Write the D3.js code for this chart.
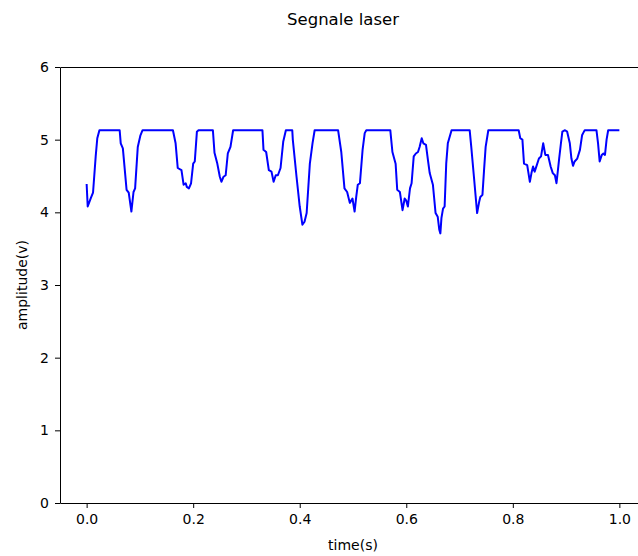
<!DOCTYPE html>
<html>
<head>
<meta charset="utf-8">
<script src="https://cdn.jsdelivr.net/npm/d3@7"></script>
<style>
  body { margin: 0; background: #fff; }
  svg { display: block; font-family: "DejaVu Sans", sans-serif; }
</style>
</head>
<body>
<svg id="chart" width="638" height="556"></svg>
<script>
// signal samples
const time = [
  0.000, 0.002, 0.008, 0.012, 0.017, 0.020, 0.024, 0.062, 0.064, 0.068,
  0.075, 0.079, 0.084, 0.088, 0.091, 0.096, 0.101, 0.105, 0.162, 0.167,
  0.171, 0.178, 0.182, 0.186, 0.188, 0.192, 0.196, 0.200, 0.203, 0.207,
  0.210, 0.237, 0.240, 0.245, 0.250, 0.253, 0.257, 0.261, 0.265, 0.270,
  0.275, 0.330, 0.332, 0.337, 0.342, 0.347, 0.351, 0.355, 0.359, 0.364,
  0.369, 0.374, 0.386, 0.387, 0.394, 0.400, 0.405, 0.409, 0.413, 0.419,
  0.424, 0.428, 0.472, 0.478, 0.484, 0.489, 0.494, 0.499, 0.503, 0.506,
  0.509, 0.513, 0.518, 0.522, 0.525, 0.570, 0.574, 0.580, 0.583, 0.588,
  0.593, 0.597, 0.600, 0.603, 0.607, 0.610, 0.614, 0.618, 0.622, 0.625,
  0.629, 0.632, 0.637, 0.641, 0.644, 0.650, 0.655, 0.659, 0.662, 0.664,
  0.666, 0.669, 0.672, 0.675, 0.678, 0.685, 0.719, 0.722, 0.727, 0.733,
  0.737, 0.739, 0.743, 0.746, 0.749, 0.754, 0.811, 0.814, 0.818, 0.821,
  0.827, 0.832, 0.835, 0.838, 0.841, 0.845, 0.849, 0.853, 0.857, 0.861,
  0.866, 0.871, 0.875, 0.879, 0.882, 0.887, 0.890, 0.893, 0.898, 0.902,
  0.907, 0.910, 0.913, 0.916, 0.921, 0.926, 0.930, 0.932, 0.935, 0.957,
  0.960, 0.963, 0.967, 0.970, 0.973, 0.976, 0.979, 1.000
];
const amplitude = [
  4.39, 4.08, 4.20, 4.27, 4.77, 5.02, 5.13, 5.13, 4.95, 4.88,
  4.31, 4.27, 4.01, 4.28, 4.33, 4.90, 5.06, 5.13, 5.13, 4.95,
  4.61, 4.58, 4.38, 4.40, 4.35, 4.33, 4.40, 4.67, 4.70, 5.11,
  5.13, 5.13, 4.82, 4.68, 4.49, 4.42, 4.49, 4.51, 4.81, 4.90,
  5.13, 5.13, 4.86, 4.83, 4.58, 4.56, 4.42, 4.51, 4.51, 4.61,
  4.97, 5.13, 5.13, 5.00, 4.49, 4.08, 3.83, 3.87, 3.99, 4.67,
  4.95, 5.13, 5.13, 4.83, 4.33, 4.28, 4.13, 4.19, 4.01, 4.21,
  4.38, 4.40, 4.86, 5.09, 5.13, 5.13, 4.83, 4.67, 4.31, 4.28,
  4.03, 4.19, 4.16, 4.08, 4.33, 4.40, 4.77, 4.81, 4.83, 4.90,
  5.02, 4.95, 4.93, 4.70, 4.54, 4.38, 3.99, 3.94, 3.76, 3.71,
  3.92, 4.05, 4.08, 4.67, 4.95, 5.13, 5.13, 4.90, 4.49, 3.99,
  4.15, 4.21, 4.24, 4.58, 4.90, 5.13, 5.13, 5.02, 5.00, 4.67,
  4.65, 4.42, 4.54, 4.63, 4.56, 4.65, 4.74, 4.77, 4.95, 4.79,
  4.79, 4.63, 4.54, 4.51, 4.40, 4.74, 4.93, 5.11, 5.13, 5.11,
  4.95, 4.74, 4.64, 4.70, 4.74, 4.86, 5.06, 5.09, 5.13, 5.13,
  4.95, 4.70, 4.79, 4.81, 4.79, 5.00, 5.13, 5.13
];
const xTicks = [0.0, 0.2, 0.4, 0.6, 0.8, 1.0];
const yTicks = [0, 1, 2, 3, 4, 5, 6];

const margin = {left: 60, top: 67};
const plotW = 586, plotH = 436;

const svg = d3.select("#chart");
const g = svg.append("g")
    .attr("transform", `translate(${margin.left},${margin.top})`);

const x = d3.scaleLinear().domain([-0.05, 1.05]).range([0, plotW]);
const y = d3.scaleLinear().domain([0, 6]).range([plotH, 0]);

const points = time.map((t, i) => [t, amplitude[i]]);

g.append("path")
    .datum(points)
    .attr("fill", "none")
    .attr("stroke", "#0000ff")
    .attr("stroke-width", 2)
    .attr("stroke-linejoin", "round")
    .attr("d", d3.line().x(d => x(d[0])).y(d => y(d[1])));

// axes
const xAxis = g.append("g")
    .attr("transform", `translate(0,${plotH})`)
    .call(d3.axisBottom(x).tickValues(xTicks).tickFormat(d3.format(".1f"))
        .tickSize(5).tickPadding(6).tickSizeOuter(0));
const yAxis = g.append("g")
    .call(d3.axisLeft(y).tickValues(yTicks).tickFormat(d3.format("d"))
        .tickSize(5).tickPadding(6).tickSizeOuter(0));

[xAxis, yAxis].forEach(a => {
    a.selectAll("text").attr("font-size", 14).attr("fill", "#000")
        .attr("font-family", "DejaVu Sans, sans-serif");
    a.selectAll("line").attr("stroke", "#000");
    a.select(".domain").attr("stroke", "#000").attr("stroke-width", 1);
});

// top and right spines (half-pixel offset keeps them crisp)
g.append("line")
    .attr("x1", 0.5).attr("x2", plotW + 0.5).attr("y1", 0.5).attr("y2", 0.5)
    .attr("stroke", "#000").attr("stroke-width", 1);
g.append("line")
    .attr("x1", plotW + 0.5).attr("x2", plotW + 0.5).attr("y1", 0.5).attr("y2", plotH + 0.5)
    .attr("stroke", "#000").attr("stroke-width", 1);

// title and labels
svg.append("text")
    .attr("x", 343).attr("y", 25)
    .attr("text-anchor", "middle")
    .attr("font-size", 16.5)
    .text("Segnale laser");

svg.append("text")
    .attr("x", margin.left + x(0.5)).attr("y", 550)
    .attr("text-anchor", "middle")
    .attr("font-size", 14)
    .text("time(s)");

svg.append("text")
    .attr("transform", `translate(27,${margin.top + plotH / 2}) rotate(-90)`)
    .attr("text-anchor", "middle")
    .attr("font-size", 14)
    .text("amplitude(v)");
</script>
</body>
</html>
